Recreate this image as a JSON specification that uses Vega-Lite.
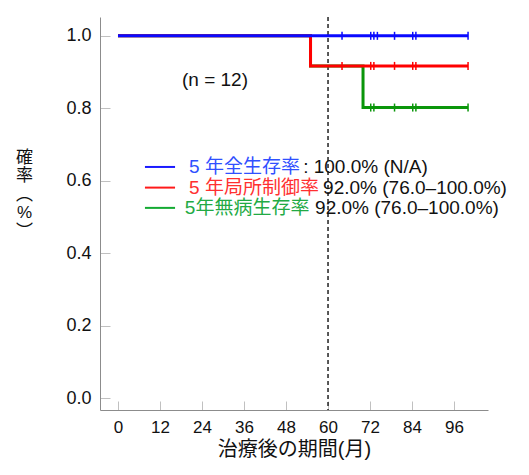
{
  "$schema": "https://vega.github.io/schema/vega-lite/v6.json",
  "width": 388,
  "height": 393,
  "autosize": {"type": "none"},
  "padding": {"left": 100, "top": 17, "right": 41, "bottom": 65},
  "background": "white",
  "config": {
    "view": {"stroke": null},
    "font": "Liberation Sans, Noto Sans CJK JP",
    "axis": {
      "grid": false,
      "domainColor": "#8c8c8c",
      "domainWidth": 1,
      "tickColor": "#c0c0c0",
      "tickWidth": 1,
      "labelColor": "#111111",
      "labelFont": "Liberation Sans",
      "labelFontSize": 17,
      "titleColor": "#111111",
      "titleFont": "Liberation Sans, Noto Sans CJK JP",
      "titleFontWeight": "normal"
    }
  },
  "datasets": {
    "km": [
      {"series": "OS", "t": 0, "s": 1.0},
      {"series": "OS", "t": 100, "s": 1.0},
      {"series": "LC", "t": 0, "s": 1.0},
      {"series": "LC", "t": 55, "s": 0.917},
      {"series": "LC", "t": 100, "s": 0.917},
      {"series": "DFS", "t": 0, "s": 1.0},
      {"series": "DFS", "t": 55, "s": 0.917},
      {"series": "DFS", "t": 70, "s": 0.802},
      {"series": "DFS", "t": 100, "s": 0.802}
    ],
    "censor": [
      {"series": "OS", "t": 64, "s": 1.0},
      {"series": "OS", "t": 72.2, "s": 1.0},
      {"series": "OS", "t": 73.1, "s": 1.0},
      {"series": "OS", "t": 74.1, "s": 1.0},
      {"series": "OS", "t": 79, "s": 1.0},
      {"series": "OS", "t": 84.2, "s": 1.0},
      {"series": "OS", "t": 85.1, "s": 1.0},
      {"series": "OS", "t": 100, "s": 1.0},
      {"series": "LC", "t": 64, "s": 0.917},
      {"series": "LC", "t": 72.2, "s": 0.917},
      {"series": "LC", "t": 73.1, "s": 0.917},
      {"series": "LC", "t": 79, "s": 0.917},
      {"series": "LC", "t": 84.2, "s": 0.917},
      {"series": "LC", "t": 85.1, "s": 0.917},
      {"series": "LC", "t": 100, "s": 0.917},
      {"series": "DFS", "t": 72.2, "s": 0.802},
      {"series": "DFS", "t": 73.1, "s": 0.802},
      {"series": "DFS", "t": 79, "s": 0.802},
      {"series": "DFS", "t": 84.2, "s": 0.802},
      {"series": "DFS", "t": 85.1, "s": 0.802},
      {"series": "DFS", "t": 100, "s": 0.802}
    ],
    "legend": [
      {"series": "OS", "label": "5 年全生存率", "value": ": 100.0% (N/A)"},
      {"series": "LC", "label": "5 年局所制御率", "value": "92.0% (76.0–100.0%)"},
      {"series": "DFS", "label": "5年無病生存率", "value": "92.0% (76.0–100.0%)"}
    ],
    "notes": [
      {"text": "(n = 12)"}
    ],
    "cut": [
      {"t": 60}
    ]
  },
  "layer": [
    {
      "data": {"name": "cut"},
      "mark": {"type": "rule", "color": "#222222", "strokeWidth": 1.5, "strokeDash": [4, 3]},
      "encoding": {
        "x": {
          "field": "t",
          "type": "quantitative",
          "scale": {"domain": [-5.14, 105.7], "nice": false, "zero": false},
          "axis": {
            "values": [0, 12, 24, 36, 48, 60, 72, 84, 96],
            "tickSize": -9,
            "labelPadding": 18,
            "title": "治療後の期間(月)",
            "titleFontSize": 20,
            "titlePadding": 4
          }
        }
      }
    },
    {
      "data": {"name": "km"},
      "transform": [{"filter": "datum.series === 'DFS'"}],
      "mark": {"type": "line", "interpolate": "step-after", "color": "#0a960a", "strokeWidth": 3},
      "encoding": {
        "x": {"field": "t", "type": "quantitative"},
        "y": {
          "field": "s",
          "type": "quantitative",
          "scale": {"domain": [-0.033, 1.052], "nice": false, "zero": false},
          "axis": {
            "values": [0, 0.2, 0.4, 0.6, 0.8, 1.0],
            "format": ".1f",
            "tickSize": -10,
            "labelPadding": 19,
            "labelFontSize": 18,
            "title": ["確", "率", "︵", "%", "︶"],
            "titleFontSize": 17,
            "titleLineHeight": 18.5,
            "titleAngle": 0,
            "titleAlign": "center",
            "titleBaseline": "top",
            "titleX": -76,
            "titleY": 132
          }
        }
      }
    },
    {
      "data": {"name": "km"},
      "transform": [{"filter": "datum.series === 'LC'"}],
      "mark": {"type": "line", "interpolate": "step-after", "color": "#ff0000", "strokeWidth": 3},
      "encoding": {
        "x": {"field": "t", "type": "quantitative"},
        "y": {"field": "s", "type": "quantitative"}
      }
    },
    {
      "data": {"name": "km"},
      "transform": [{"filter": "datum.series === 'OS'"}],
      "mark": {"type": "line", "interpolate": "step-after", "color": "#0a0aff", "strokeWidth": 3},
      "encoding": {
        "x": {"field": "t", "type": "quantitative"},
        "y": {"field": "s", "type": "quantitative"}
      }
    },
    {
      "data": {"name": "censor"},
      "transform": [{"filter": "datum.series === 'DFS'"}],
      "mark": {"type": "tick", "orient": "vertical", "color": "#0a960a", "size": 8, "thickness": 1.5, "opacity": 1},
      "encoding": {
        "x": {"field": "t", "type": "quantitative"},
        "y": {"field": "s", "type": "quantitative"}
      }
    },
    {
      "data": {"name": "censor"},
      "transform": [{"filter": "datum.series === 'LC'"}],
      "mark": {"type": "tick", "orient": "vertical", "color": "#ff0000", "size": 8, "thickness": 1.5, "opacity": 1},
      "encoding": {
        "x": {"field": "t", "type": "quantitative"},
        "y": {"field": "s", "type": "quantitative"}
      }
    },
    {
      "data": {"name": "censor"},
      "transform": [{"filter": "datum.series === 'OS'"}],
      "mark": {"type": "tick", "orient": "vertical", "color": "#0a0aff", "size": 8, "thickness": 1.5, "opacity": 1},
      "encoding": {
        "x": {"field": "t", "type": "quantitative"},
        "y": {"field": "s", "type": "quantitative"}
      }
    },
    {
      "data": {"name": "notes"},
      "mark": {"type": "text", "fontSize": 19, "color": "#111111", "align": "center", "baseline": "middle", "font": "Liberation Sans"},
      "encoding": {
        "x": {"datum": 27.7},
        "y": {"datum": 0.878},
        "text": {"field": "text"}
      }
    },
    {
      "data": {"name": "legend"},
      "transform": [{"filter": "datum.series === 'OS'"}],
      "mark": {"type": "rule", "color": "#1a1aff", "strokeWidth": 2},
      "encoding": {"x": {"datum": 7.7}, "x2": {"datum": 16.3}, "y": {"datum": 0.638}}
    },
    {
      "data": {"name": "legend"},
      "transform": [{"filter": "datum.series === 'LC'"}],
      "mark": {"type": "rule", "color": "#ff1a1a", "strokeWidth": 2},
      "encoding": {"x": {"datum": 7.7}, "x2": {"datum": 16.3}, "y": {"datum": 0.581}}
    },
    {
      "data": {"name": "legend"},
      "transform": [{"filter": "datum.series === 'DFS'"}],
      "mark": {"type": "rule", "color": "#14aa32", "strokeWidth": 2},
      "encoding": {"x": {"datum": 7.7}, "x2": {"datum": 16.3}, "y": {"datum": 0.525}}
    },
    {
      "data": {"name": "legend"},
      "transform": [{"filter": "datum.series === 'OS'"}],
      "mark": {"type": "text", "fontSize": 19, "color": "#3050ff", "align": "left", "baseline": "middle"},
      "encoding": {"x": {"datum": 20.3}, "y": {"datum": 0.638}, "text": {"field": "label"}}
    },
    {
      "data": {"name": "legend"},
      "transform": [{"filter": "datum.series === 'LC'"}],
      "mark": {"type": "text", "fontSize": 19, "color": "#ff3030", "align": "left", "baseline": "middle"},
      "encoding": {"x": {"datum": 20.3}, "y": {"datum": 0.581}, "text": {"field": "label"}}
    },
    {
      "data": {"name": "legend"},
      "transform": [{"filter": "datum.series === 'DFS'"}],
      "mark": {"type": "text", "fontSize": 19, "color": "#22aa44", "align": "left", "baseline": "middle"},
      "encoding": {"x": {"datum": 19.1}, "y": {"datum": 0.525}, "text": {"field": "label"}}
    },
    {
      "data": {"name": "legend"},
      "transform": [{"filter": "datum.series === 'OS'"}],
      "mark": {"type": "text", "fontSize": 19, "color": "#111111", "align": "left", "baseline": "middle"},
      "encoding": {"x": {"datum": 52.9}, "y": {"datum": 0.638}, "text": {"field": "value"}}
    },
    {
      "data": {"name": "legend"},
      "transform": [{"filter": "datum.series === 'LC'"}],
      "mark": {"type": "text", "fontSize": 19, "color": "#111111", "align": "left", "baseline": "middle"},
      "encoding": {"x": {"datum": 58.6}, "y": {"datum": 0.581}, "text": {"field": "value"}}
    },
    {
      "data": {"name": "legend"},
      "transform": [{"filter": "datum.series === 'DFS'"}],
      "mark": {"type": "text", "fontSize": 19, "color": "#111111", "align": "left", "baseline": "middle"},
      "encoding": {"x": {"datum": 56.3}, "y": {"datum": 0.525}, "text": {"field": "value"}}
    }
  ]
}
